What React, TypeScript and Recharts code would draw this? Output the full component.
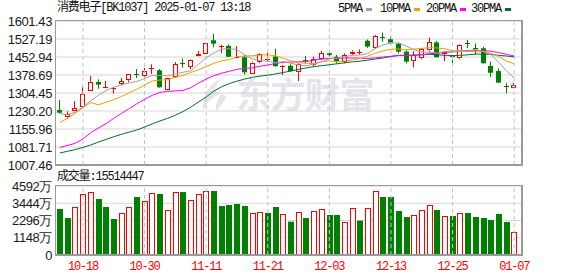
import React from 'react';
import { ComposedChart, Bar, Line, XAxis, YAxis, CartesianGrid, ReferenceLine } from 'recharts';

const dates = [
  '10-15', '10-16', '10-17', '10-18', '10-21', '10-22', '10-23', '10-24', '10-25', '10-28',
  '10-29', '10-30', '10-31', '11-01', '11-04', '11-05', '11-06', '11-07', '11-08', '11-11',
  '11-12', '11-13', '11-14', '11-15', '11-18', '11-19', '11-20', '11-21', '11-22', '11-25',
  '11-26', '11-27', '11-28', '11-29', '12-02', '12-03', '12-04', '12-05', '12-06', '12-09',
  '12-10', '12-11', '12-12', '12-13', '12-16', '12-17', '12-18', '12-19', '12-20', '12-23',
  '12-24', '12-25', '12-26', '12-27', '12-30', '12-31', '01-02', '01-03', '01-06', '01-07',
];

const open = [
  1234, 1203, 1227, 1247, 1315, 1350, 1327, 1321, 1343, 1357,
  1381, 1373, 1405, 1398, 1314, 1369, 1427, 1413, 1454, 1464,
  1522, 1495, 1499, 1449, 1452, 1386, 1431, 1440, 1455, 1412,
  1417, 1390, 1440, 1420, 1445, 1468, 1454, 1434, 1468, 1470,
  1520, 1489, 1534, 1526, 1507, 1475, 1435, 1447, 1479, 1513,
  1465, 1457, 1447, 1509, 1492, 1489, 1416, 1395, 1332, 1324,
];
const high = [
  1276, 1229, 1271, 1331, 1375, 1361, 1354, 1329, 1366, 1383,
  1403, 1408, 1423, 1403, 1367, 1432, 1447, 1443, 1478, 1511,
  1548, 1504, 1505, 1498, 1462, 1433, 1468, 1470, 1487, 1419,
  1423, 1427, 1457, 1455, 1477, 1475, 1461, 1468, 1481, 1484,
  1525, 1544, 1553, 1537, 1512, 1481, 1477, 1488, 1533, 1519,
  1475, 1461, 1505, 1523, 1509, 1495, 1434, 1406, 1345, 1347,
];
const low = [
  1220, 1197, 1223, 1244, 1313, 1322, 1324, 1302, 1337, 1348,
  1366, 1367, 1383, 1326, 1313, 1368, 1409, 1403, 1453, 1463,
  1493, 1468, 1453, 1447, 1380, 1383, 1427, 1433, 1413, 1379,
  1392, 1354, 1427, 1413, 1441, 1455, 1427, 1427, 1461, 1463,
  1491, 1486, 1516, 1505, 1468, 1427, 1410, 1443, 1472, 1451,
  1436, 1420, 1443, 1489, 1464, 1426, 1371, 1347, 1303, 1323,
];
const close = [
  1223, 1216, 1241, 1299, 1351, 1339, 1331, 1326, 1354, 1381,
  1376, 1394, 1409, 1328, 1365, 1424, 1422, 1441, 1464, 1510,
  1508, 1500, 1454, 1452, 1390, 1430, 1464, 1445, 1415, 1417,
  1395, 1423, 1434, 1445, 1468, 1461, 1434, 1461, 1475, 1475,
  1496, 1540, 1531, 1512, 1475, 1434, 1461, 1484, 1513, 1452,
  1472, 1454, 1502, 1503, 1488, 1427, 1388, 1347, 1329, 1337,
];

const ma5 = [
  1219, 1216, 1225, 1247, 1272, 1295, 1315, 1328, 1338, 1346,
  1352, 1364, 1377, 1377, 1375, 1383, 1390, 1396, 1422, 1450,
  1469, 1485, 1487, 1484, 1461, 1445, 1438, 1436, 1429, 1434,
  1427, 1420, 1417, 1423, 1433, 1446, 1448, 1454, 1460, 1461,
  1468, 1489, 1503, 1511, 1511, 1498, 1483, 1473, 1473, 1469,
  1476, 1475, 1479, 1477, 1484, 1475, 1462, 1431, 1396, 1366,
];
const ma10 = [
  1183, 1200, 1221, 1244, 1265, 1256, 1266, 1277, 1290, 1305,
  1320, 1337, 1354, 1358, 1359, 1369, 1378, 1389, 1400, 1413,
  1427, 1437, 1442, 1454, 1457, 1458, 1461, 1462, 1458, 1448,
  1437, 1429, 1427, 1426, 1434, 1437, 1434, 1436, 1441, 1447,
  1457, 1469, 1479, 1485, 1486, 1483, 1486, 1488, 1492, 1490,
  1487, 1479, 1476, 1475, 1476, 1476, 1468, 1455, 1436, 1425,
];
const ma20 = [
  1080, 1088, 1097, 1115, 1140, 1160, 1178, 1200, 1220, 1240,
  1260, 1278, 1295, 1307, 1311, 1313, 1315, 1326, 1345, 1362,
  1376, 1386, 1394, 1402, 1406, 1408, 1415, 1420, 1426, 1431,
  1432, 1433, 1434, 1440, 1445, 1447, 1448, 1449, 1449, 1448,
  1447, 1449, 1453, 1456, 1460, 1460, 1460, 1462, 1467, 1468,
  1472, 1474, 1477, 1480, 1481, 1479, 1477, 1471, 1464, 1457,
];
const ma30 = [
  1057, 1064, 1071, 1080, 1090, 1102, 1113, 1124, 1134, 1143,
  1152, 1164, 1177, 1189, 1200, 1213, 1228, 1246, 1267, 1288,
  1312, 1330, 1343, 1353, 1362, 1369, 1374, 1378, 1383, 1389,
  1395, 1402, 1408, 1413, 1417, 1421, 1425, 1429, 1433, 1436,
  1440, 1445, 1449, 1455, 1459, 1459, 1461, 1462, 1464, 1462,
  1460, 1459, 1460, 1462, 1465, 1465, 1463, 1460, 1457, 1454,
];

// 成交量, 万
const volume = [
  3061, 2462, 3172, 4037, 4170, 3727, 3194, 2396, 2773, 3172,
  3860, 3594, 4104, 4059, 2995, 4193, 4193, 3638, 4037, 4237,
  4259, 3261, 3328, 3394, 3261, 2773, 2840, 2795, 3194, 2706,
  2218, 2840, 2462, 2928, 3039, 2662, 2662, 2174, 3106, 2285,
  3106, 4237, 3860, 3860, 2928, 2529, 2640, 2973, 3305, 2995,
  2596, 2596, 2773, 2795, 2529, 2462, 2329, 2729, 2196, 1551,
];
// 1 = red (up), 0 = green (down)
const volumeUp = [
  0, 0, 1, 1, 1, 0, 0, 0, 1, 1,
  0, 1, 1, 0, 1, 1, 0, 1, 1, 1,
  0, 0, 0, 0, 0, 1, 1, 0, 0, 1,
  0, 1, 0, 1, 1, 0, 0, 1, 1, 0,
  1, 1, 0, 0, 0, 0, 1, 1, 1, 0,
  1, 0, 1, 0, 0, 0, 0, 0, 0, 1,
];

const tickDates = ['10-18', '10-30', '11-11', '11-21', '12-03', '12-13', '12-25', '01-07'];
const priceTicks = [1007.46, 1081.71, 1155.96, 1230.2, 1304.45, 1378.69, 1452.94, 1527.19, 1601.43];
const volumeTicks = [0, 1148, 2296, 3444, 4592];

const RED = '#ff0000';
const GREEN = '#008000';
const GRID = '#d6d6d6';
const BORDER = '#9a9a9a';
const WATERMARK = '#e4e4ea';

const rows = dates.map((date, i) => ({
  date,
  open: open[i],
  high: high[i],
  low: low[i],
  close: close[i],
  ma5: ma5[i],
  ma10: ma10[i],
  ma20: ma20[i],
  ma30: ma30[i],
  vol: volume[i],
  volUp: volumeUp[i] === 1,
}));

function Candle(props: any) {
  const { x, y, width, height, payload } = props;
  if (!payload) return null;
  const span = payload.high - payload.low || 1;
  const k = height / span;
  const p = Math.floor(x + width / 2);
  const cx = p + 0.5;
  const yTop = y + (payload.high - Math.max(payload.open, payload.close)) * k;
  const yBot = y + (payload.high - Math.min(payload.open, payload.close)) * k;
  const up = payload.close >= payload.open;
  const color = up ? RED : GREEN;
  const bodyH = yBot - yTop;
  if (bodyH < 1.5) {
    return (
      <g>
        <line x1={cx} x2={cx} y1={y} y2={y + height} stroke={color} />
        <line x1={p - 2} x2={p + 3} y1={Math.round(yTop) + 0.5} y2={Math.round(yTop) + 0.5} stroke={color} />
      </g>
    );
  }
  if (up) {
    return (
      <g>
        <line x1={cx} x2={cx} y1={y} y2={yTop} stroke={color} />
        <line x1={cx} x2={cx} y1={yBot} y2={y + height} stroke={color} />
        <rect x={p - 1.5} y={Math.round(yTop) + 0.5} width={4} height={Math.max(Math.round(bodyH) - 1, 1)} fill="#fff" stroke={color} />
      </g>
    );
  }
  return (
    <g>
      <line x1={cx} x2={cx} y1={y} y2={y + height} stroke={color} />
      <rect x={p - 2} y={yTop} width={5} height={bodyH} fill={color} />
    </g>
  );
}

function VolumeBar(props: any) {
  const { x, y, width, height, payload } = props;
  if (!payload || height <= 0) return null;
  const p = Math.round(x);
  const w = Math.round(width);
  if (payload.volUp) {
    return <rect x={p + 0.5} y={Math.round(y) + 0.5} width={w - 1} height={Math.round(height) - 1} fill="#fff" stroke={RED} />;
  }
  return <rect x={p} y={y} width={w} height={height} fill={GREEN} />;
}

const textFont = '"Liberation Mono", "Noto Sans CJK SC", monospace';
const axisTick = { fontSize: 13, fill: '#1a1a1a', fontFamily: '"Liberation Sans", Arial, sans-serif', letterSpacing: -0.4 };

const legend = [
  { label: '5PMA', color: '#a0a0a0', left: 338 },
  { label: '10PMA', color: '#f0a000', left: 380 },
  { label: '20PMA', color: '#ff00ff', left: 426 },
  { label: '30PMA', color: '#006b3a', left: 471 },
];

export default function App() {
  return (
    <div style={{ position: 'absolute', left: 0, top: 0, width: 578, height: 276, background: '#fff', overflow: 'hidden' }}>
      {/* watermark */}
      <svg width={30} height={36} style={{ position: 'absolute', left: 199, top: 76 }}>
        <path d="M27 1 C12 6 3 16 4 35 C9 24 15 20 22 18 C14 16 13 8 27 1 Z" fill={WATERMARK} />
        <path d="M22 18 C18 24 16 30 17 35 C22 30 26 25 27 20 Z" fill={WATERMARK} />
      </svg>
      <div
        style={{
          position: 'absolute', left: 236, top: 73, fontSize: 35, fontWeight: 'bold', color: WATERMARK,
          fontFamily: '"Noto Sans CJK SC", sans-serif', lineHeight: '40px', letterSpacing: -0.5, whiteSpace: 'nowrap',
        }}
      >
        东方财富
      </div>

      <div style={{ position: 'absolute', left: 0, top: 0 }}>
        <ComposedChart width={578} height={172} data={rows} margin={{ top: 21, right: 56, bottom: 7, left: 0 }}>
          <CartesianGrid vertical={false} stroke={GRID} />
          <XAxis dataKey="date" hide padding={{ left: 0, right: 4 }} />
          <YAxis
            domain={[1007.46, 1601.43]}
            ticks={priceTicks}
            interval={0}
            allowDataOverflow
            width={56}
            axisLine={false}
            tickLine={false}
            tickSize={4}
            tickMargin={0}
            tick={axisTick}
            tickFormatter={(v: number) => v.toFixed(2)}
          />
          {tickDates.map((d) => (
            <ReferenceLine key={d} x={d} stroke="#c4c4c4" strokeDasharray="4 3" />
          ))}
          <Bar dataKey={(d: any) => [d.low, d.high]} barSize={5} shape={Candle} isAnimationActive={false} />
          <Line dataKey="ma30" stroke="#006b3a" strokeWidth={1} dot={false} isAnimationActive={false} />
          <Line dataKey="ma20" stroke="#ff00ff" strokeWidth={1} dot={false} isAnimationActive={false} />
          <Line dataKey="ma10" stroke="#f0a000" strokeWidth={1} dot={false} isAnimationActive={false} />
          <Line dataKey="ma5" stroke="#a0a0a0" strokeWidth={1} dot={false} isAnimationActive={false} />
        </ComposedChart>
      </div>

      <div style={{ position: 'absolute', left: 0, top: 0 }}>
        <ComposedChart width={578} height={276} data={rows} margin={{ top: 186, right: 56, bottom: 0, left: 0 }}>
          <CartesianGrid vertical={false} stroke={GRID} />
          <XAxis
            dataKey="date"
            ticks={tickDates}
            interval={0}
            padding={{ left: 0, right: 4 }}
            height={21}
            axisLine={false}
            tickLine={false}
            tickSize={6}
            tickMargin={0}
            tick={{ fontSize: 12, fill: RED, fontFamily: '"Liberation Mono", monospace', letterSpacing: -1.2 }}
          />
          <YAxis
            domain={[0, 4592]}
            ticks={volumeTicks}
            interval={0}
            width={56}
            axisLine={false}
            tickLine={false}
            tickSize={4}
            tickMargin={0}
            tick={axisTick}
            tickFormatter={(v: number) => (v === 0 ? '0' : `${v}万`)}
          />
          {tickDates.map((d) => (
            <ReferenceLine key={d} x={d} stroke="#c4c4c4" strokeDasharray="4 3" />
          ))}
          <Bar dataKey="vol" barSize={6} shape={VolumeBar} isAnimationActive={false} />
        </ComposedChart>
      </div>

      <div style={{ position: 'absolute', left: 55, top: 20, width: 468, height: 146, boxSizing: 'border-box', border: `1px solid ${BORDER}`, borderRightWidth: 2, borderBottomWidth: 2, pointerEvents: 'none' }} />
      <div style={{ position: 'absolute', left: 55, top: 185, width: 468, height: 71, boxSizing: 'border-box', border: `1px solid ${BORDER}`, borderRightWidth: 2, borderBottomWidth: 2, pointerEvents: 'none' }} />

      <div style={{ position: 'absolute', left: 57, top: 2, fontSize: 12, lineHeight: '12px', fontFamily: textFont, letterSpacing: -1.2, color: '#111', whiteSpace: 'nowrap' }}>
        消费电子[BK1037] 2025-01-07 13:18
      </div>

      {legend.map((l) => (
        <div key={l.label} style={{ position: 'absolute', left: l.left, top: 3, display: 'flex', alignItems: 'center', fontSize: 12, lineHeight: '12px', fontFamily: textFont, letterSpacing: -1.2, color: '#111', whiteSpace: 'nowrap' }}>
          <span>{l.label}</span>
          <span style={{ display: 'inline-block', width: 6, height: 3, background: l.color, marginLeft: 4 }} />
        </div>
      ))}

      <div style={{ position: 'absolute', left: 57, top: 171, fontSize: 12, lineHeight: '12px', fontFamily: textFont, letterSpacing: -1.2, color: '#111', whiteSpace: 'nowrap' }}>
        成交量:15514447
      </div>
    </div>
  );
}
